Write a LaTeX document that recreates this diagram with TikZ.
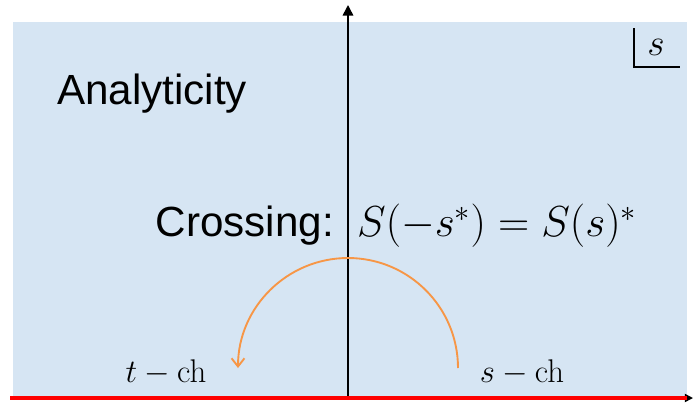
\RequirePackage{fix-cm}
\documentclass[tikz,border=0pt]{standalone}
\usepackage{amsmath, amssymb}
\usepackage{xcolor}
\usepackage[no-math]{fontspec}
\setmainfont{Liberation Sans}
\usepackage{tikz}
\usetikzlibrary{positioning, arrows.meta}

\definecolor{planeblue}{RGB}{214,229,243}
\definecolor{arcorange}{RGB}{247,150,70}

\begin{document}
\begin{tikzpicture}[x=0.03cm, y=-0.03cm, every node/.style={inner sep=0pt}]
		\useasboundingbox (0,0) rectangle (693,407);
		% Background plane
		\fill[planeblue] (13,22) rectangle (687,397);
		
		% Axis points
		\coordinate (o) at (348,397);
		\coordinate (top) at (348,5);
		\coordinate (left) at (10,398);
		\coordinate (right) at (693,398);
		\coordinate (cut) at (687,398);
		
		% Labels
		\node[anchor=west, font=\fontsize{36}{40}\selectfont] (ana) at (57,94) {Analyticity};
		\node[anchor=east, font=\fontsize{36}{40}\selectfont] (cross) at (334,226) {Crossing:};
		\node[anchor=base west, font=\fontsize{37}{42}\selectfont] (eq) at (cross.base -| 357,0) {$S(-s^{*}) = S(s)^{*}$};
		\node[font=\fontsize{28}{32}\selectfont] (tch) at (166,372) {$t-\mathrm{ch}$};
		\node[font=\fontsize{28}{32}\selectfont] (sch) at (522,372) {$s-\mathrm{ch}$};
		\node[font=\fontsize{32}{36}\selectfont] (s) at (656,47) {$s$};
		
		% Corner mark
		\draw[line width=1pt] (634,28) |- (680,67);
		
		% Axes
		\draw[line width=1.3pt, -{Triangle[length=9pt, width=9pt]}] (o) -- (top);
		\draw[line width=1.3pt, -{Triangle[length=7pt, width=7pt]}] (left) -- (right);
		\draw[red, line width=3pt] (left) -- (cut);
		
		% Crossing arc
		\draw[arcorange, line width=1.6pt, -{Straight Barb[length=7pt, width=11pt]}] (458,368) arc[start angle=0, end angle=-180, radius=110];
	\end{tikzpicture}
\end{document}
